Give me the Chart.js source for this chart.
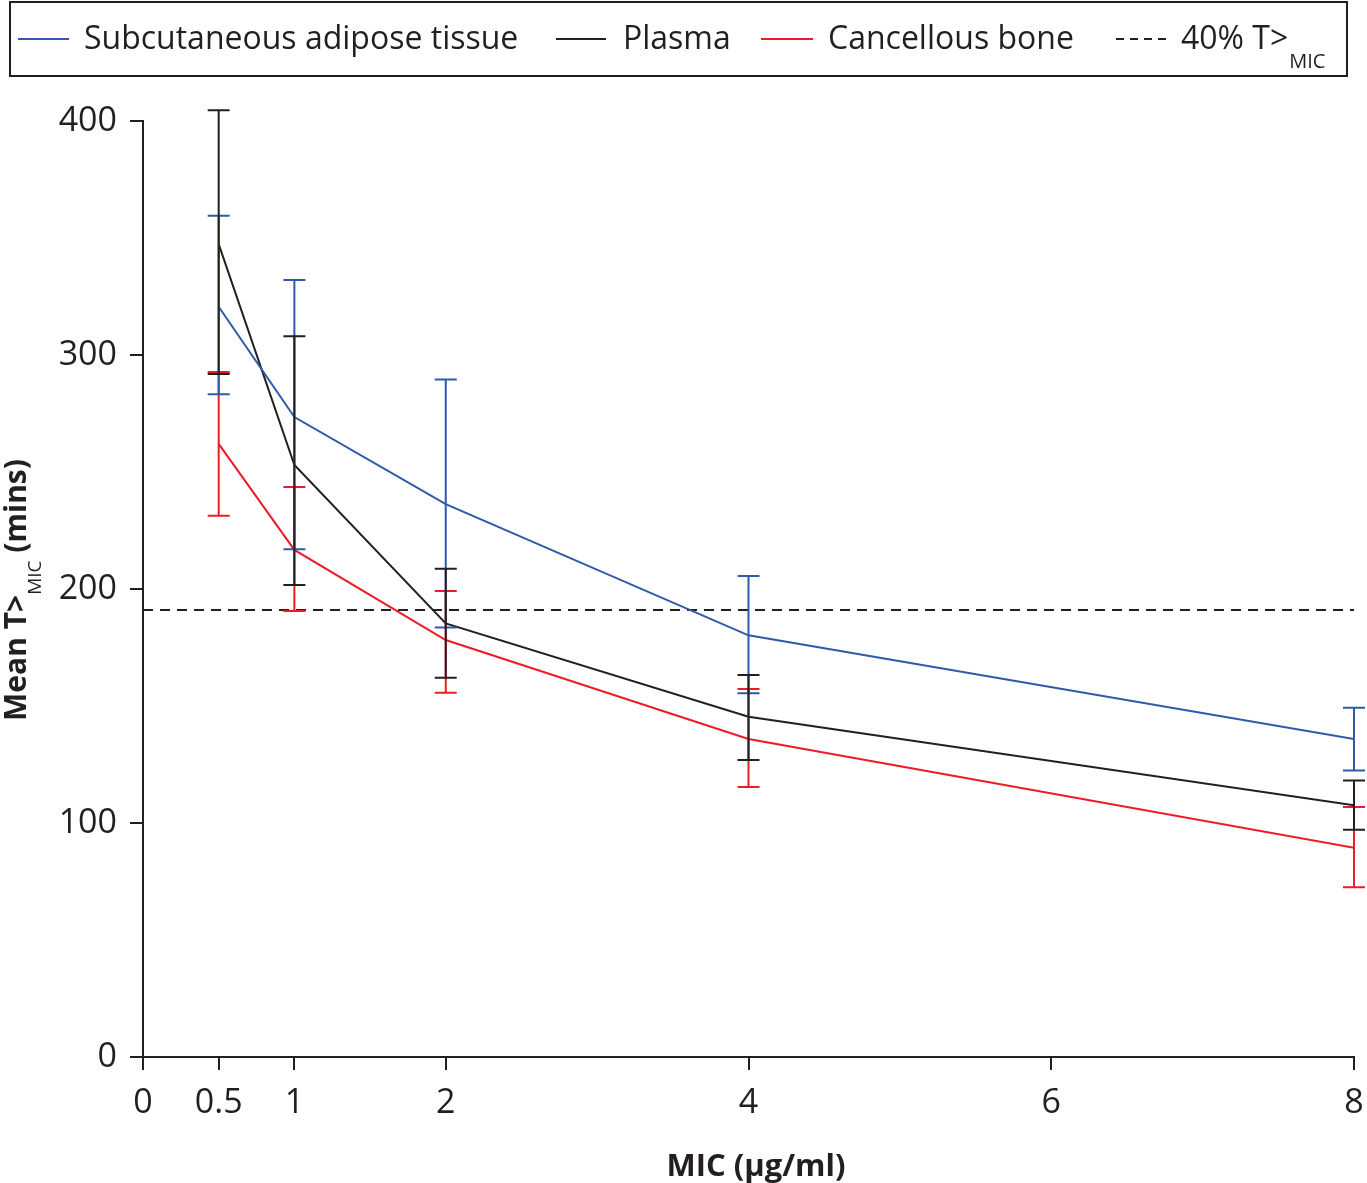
<!DOCTYPE html>
<html>
<head>
<meta charset="utf-8">
<script src="https://cdn.jsdelivr.net/npm/chart.js@4.4.1/dist/chart.umd.min.js"></script>
<style>
  html, body { margin: 0; padding: 0; background: #ffffff; }
  #wrap { position: relative; width: 1367px; height: 1183px; }
  #legend { position: absolute; left: 9px; top: 1px; width: 1335px; height: 72px; border: 2px solid #231f20; font-family: "Open Sans", sans-serif; font-size: 32px; color: #231f20; }
  .sw { position: absolute; top: 35px; height: 2px; }
  .lt { position: absolute; top: 14px; line-height: 40px; white-space: nowrap; }
  .sub { font-size: 20px; position: relative; top: 19px; margin-left: 1px; }
</style>
</head>
<body>
<div id="wrap">
  <canvas id="c" width="1367" height="1183"></canvas>
  <div id="legend"></div>
</div>
<script>
// ---- data ----
const micValues = [0.5, 1, 2, 4, 8];
const xTickValues = [0, 0.5, 1, 2, 4, 6, 8];
const yTickStep = 100;

const satMean  = [320.6, 273.5, 236.3, 180.2, 135.9];
const satUpper = [359.5, 332.0, 289.5, 205.6, 149.3];
const satLower = [283.2, 217.0, 183.5, 155.4, 122.4];

const plasmaMean  = [347.4, 253.0, 185.3, 145.4, 107.6];
const plasmaUpper = [404.6, 308.0, 208.7, 163.2, 118.2];
const plasmaLower = [291.9, 201.7, 162.1, 126.9, 97.1];

const boneMean  = [262.0, 216.7, 178.2, 135.9, 89.4];
const boneUpper = [292.7, 243.6, 199.1, 157.3, 106.8];
const boneLower = [231.3, 190.6, 155.7, 115.4, 72.5];

const thresholdValue = 191;
const thresholdRange = [0, 8];

const seriesNames = ['Subcutaneous adipose tissue', 'Plasma', 'Cancellous bone'];
const thresholdName = '40% T>';
const thresholdSub = 'MIC';

// ---- styles ----
const BLUE = '#2f5aa8', BLACK = '#231f20', RED = '#ed1c24';
const FONT = '"Open Sans", sans-serif';

function pts(means) { return micValues.map((x, i) => ({ x: x, y: means[i] })); }

// legend (HTML)
const legend = document.getElementById('legend');
legend.innerHTML =
  '<div class="sw" style="left:7px;width:51px;background:' + BLUE + '"></div>' +
  '<div class="lt" style="left:73px">' + seriesNames[0] + '</div>' +
  '<div class="sw" style="left:545px;width:50px;background:' + BLACK + '"></div>' +
  '<div class="lt" style="left:612px">' + seriesNames[1] + '</div>' +
  '<div class="sw" style="left:750px;width:52px;background:' + RED + '"></div>' +
  '<div class="lt" style="left:817px">' + seriesNames[2] + '</div>' +
  '<div class="sw" style="left:1105px;width:50px;background:repeating-linear-gradient(to right,' + BLACK + ' 0 8px, transparent 8px 14px)"></div>' +
  '<div class="lt" style="left:1170px">' + thresholdName.replace('>', '&gt;') + '<span class="sub">' + thresholdSub + '</span></div>';

const errorSets = [
  { upper: boneUpper, lower: boneLower, color: RED },
  { upper: satUpper, lower: satLower, color: BLUE },
  { upper: plasmaUpper, lower: plasmaLower, color: BLACK }
];

const errorBarPlugin = {
  id: 'errorBars',
  afterDatasetsDraw(chart) {
    const ctx = chart.ctx, xs = chart.scales.x, ys = chart.scales.y;
    ctx.save();
    ctx.lineWidth = 2;
    errorSets.forEach(s => {
      ctx.strokeStyle = s.color;
      micValues.forEach((m, i) => {
        const px = xs.getPixelForValue(m);
        const pu = ys.getPixelForValue(s.upper[i]);
        const pl = ys.getPixelForValue(s.lower[i]);
        ctx.beginPath();
        ctx.moveTo(px, pu); ctx.lineTo(px, pl);
        ctx.moveTo(px - 11, pu); ctx.lineTo(px + 11, pu);
        ctx.moveTo(px - 11, pl); ctx.lineTo(px + 11, pl);
        ctx.stroke();
      });
    });
    ctx.restore();
  },
  afterDraw(chart) {
    const ctx = chart.ctx;
    ctx.save();
    ctx.fillStyle = BLACK;
    // x title
    ctx.font = 'bold 31px ' + FONT;
    ctx.textAlign = 'center';
    ctx.textBaseline = 'alphabetic';
    ctx.fillText('MIC (µg/ml)', 756, 1176);
    // y title rotated with subscript
    ctx.translate(26, 590);
    ctx.rotate(-Math.PI / 2);
    const p1 = 'Mean T>', p2 = 'MIC', p3 = ' (mins)';
    ctx.font = 'bold 30px ' + FONT;
    const w1 = ctx.measureText(p1).width, w3 = ctx.measureText(p3).width;
    ctx.font = '19px ' + FONT;
    const w2 = ctx.measureText(p2).width;
    const total = w1 + w2 + w3;
    let x0 = -total / 2;
    ctx.textAlign = 'left';
    ctx.font = 'bold 30px ' + FONT;
    ctx.fillText(p1, x0, 0);
    ctx.font = '19px ' + FONT;
    ctx.fillText(p2, x0 + w1, 15);
    ctx.font = 'bold 30px ' + FONT;
    ctx.fillText(p3, x0 + w1 + w2, 0);
    ctx.restore();
  }
};

new Chart(document.getElementById('c'), {
  type: 'line',
  data: {
    datasets: [
      { label: seriesNames[0], data: pts(satMean), borderColor: BLUE, borderWidth: 2, pointRadius: 0, tension: 0, fill: false },
      { label: seriesNames[1], data: pts(plasmaMean), borderColor: BLACK, borderWidth: 2, pointRadius: 0, tension: 0, fill: false },
      { label: seriesNames[2], data: pts(boneMean), borderColor: RED, borderWidth: 2, pointRadius: 0, tension: 0, fill: false },
      { label: thresholdName + thresholdSub, data: thresholdRange.map(x => ({ x: x, y: thresholdValue })), borderColor: BLACK, borderWidth: 2, borderDash: [10, 7], pointRadius: 0, fill: false }
    ]
  },
  options: {
    responsive: false,
    animation: false,
    events: [],
    layout: { padding: { top: 121, right: 13, left: 0, bottom: 0 } },
    plugins: { legend: { display: false }, tooltip: { enabled: false }, title: { display: false } },
    scales: {
      x: {
        type: 'linear', min: 0, max: 8,
        afterBuildTicks: s => { s.ticks = xTickValues.map(v => ({ value: v })); },
        afterFit: s => { s.height = 126; s.paddingLeft = 0; s.paddingRight = 0; },
        border: { display: true, color: BLACK, width: 2 },
        grid: { display: true, drawOnChartArea: false, drawTicks: true, tickLength: 13, tickWidth: 2, tickColor: BLACK, color: BLACK, lineWidth: 2 },
        ticks: { color: BLACK, font: { family: FONT, size: 34 }, padding: 13, maxRotation: 0, autoSkip: false, callback: v => String(v) }
      },
      y: {
        type: 'linear', min: 0, max: 400,
        afterFit: s => { s.width = 143; s.paddingTop = 0; s.paddingBottom = 0; },
        border: { display: true, color: BLACK, width: 2 },
        grid: { display: true, drawOnChartArea: false, drawTicks: true, tickLength: 13, tickWidth: 2, tickColor: BLACK, color: BLACK, lineWidth: 2 },
        ticks: { stepSize: yTickStep, color: BLACK, font: { family: FONT, size: 34 }, padding: 13 }
      }
    }
  },
  plugins: [errorBarPlugin]
});
</script>
</body>
</html>
